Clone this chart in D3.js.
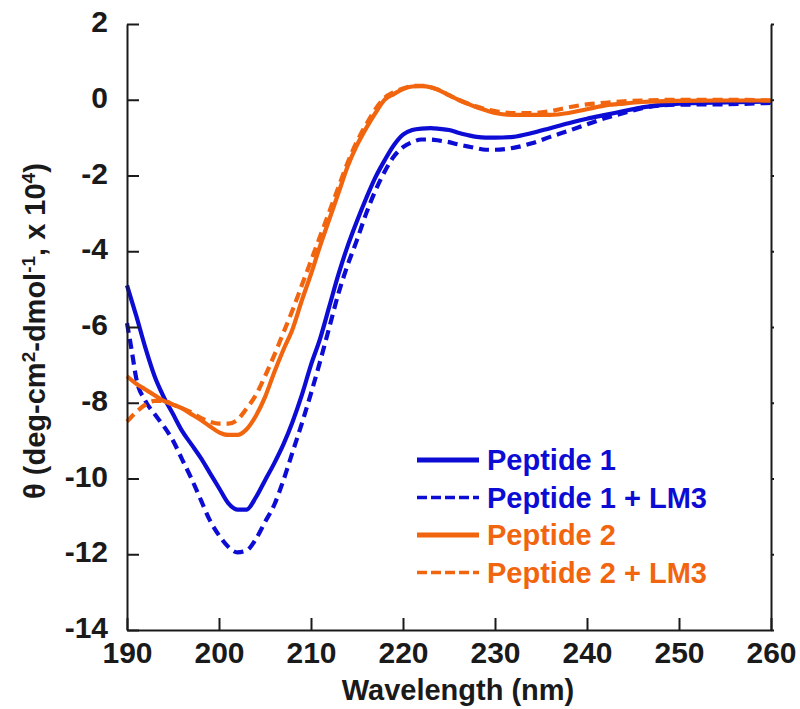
<!DOCTYPE html>
<html>
<head>
<meta charset="utf-8">
<script src="https://cdn.jsdelivr.net/npm/d3@7"></script>
<style>
  html, body { margin: 0; padding: 0; background: #fff; }
  svg { display: block; font-family: "Liberation Sans", Arial, Helvetica, sans-serif; font-weight: bold; }
</style>
</head>
<body>
<svg id="chart" width="800" height="709"></svg>
<script>
// ---- Data (theta, x 10^4 deg-cm^2-dmol^-1) ----
const xTicks = [190, 200, 210, 220, 230, 240, 250, 260];
const yTicks = [2, 0, -2, -4, -6, -8, -10, -12, -14];

const p1Wl = [190,191,192,193,194,195,196,197,198,199,200,201,202,203,204,205,206,207,208,209,210,211,212,213,214,215,216,217,218,219,220,221,222,223,224,225,226,227,228,229,230,232,234,236,238,240,242,244,246,248,250,255,260];
const p1Val = [-4.9,-5.7,-6.55,-7.3,-7.85,-8.3,-8.75,-9.1,-9.45,-9.85,-10.25,-10.65,-10.82,-10.82,-10.5,-10.05,-9.6,-9.1,-8.5,-7.8,-7.0,-6.3,-5.45,-4.6,-3.85,-3.2,-2.6,-2.05,-1.6,-1.2,-0.92,-0.8,-0.76,-0.75,-0.77,-0.8,-0.87,-0.93,-0.98,-1.0,-1.0,-0.98,-0.88,-0.75,-0.62,-0.5,-0.4,-0.3,-0.2,-0.14,-0.1,-0.07,-0.05];

const p1lmWl = [190,190.5,191,192,193,194,195,196,197,198,199,200,201,202,203,204,205,206,207,208,209,210,211,212,213,214,215,216,217,218,219,220,221,222,223,224,225,226,227,228,229,230,232,234,236,238,240,242,244,246,248,250,255,260];
const p1lmVal = [-5.9,-6.6,-7.35,-7.95,-8.3,-8.62,-9.0,-9.5,-10.0,-10.55,-11.1,-11.5,-11.8,-11.95,-11.9,-11.6,-11.15,-10.7,-10.05,-9.3,-8.55,-7.75,-6.9,-6.0,-5.1,-4.35,-3.7,-3.0,-2.4,-1.9,-1.5,-1.25,-1.12,-1.05,-1.05,-1.08,-1.12,-1.18,-1.23,-1.28,-1.32,-1.32,-1.27,-1.15,-0.98,-0.82,-0.65,-0.48,-0.35,-0.22,-0.15,-0.13,-0.12,-0.08];

const p2Wl = [190,191,192,193,194,195,196,197,198,199,200,201,202,203,204,205,206,207,208,209,210,211,212,213,214,215,216,217,218,219,220,221,222,223,224,225,226,227,228,229,230,232,234,236,238,240,242,244,246,250,255,260];
const p2Val = [-7.3,-7.5,-7.65,-7.8,-7.95,-8.05,-8.15,-8.3,-8.45,-8.62,-8.78,-8.85,-8.85,-8.7,-8.35,-7.85,-7.2,-6.6,-6.05,-5.3,-4.6,-3.85,-3.15,-2.45,-1.75,-1.2,-0.75,-0.35,0.0,0.15,0.28,0.35,0.36,0.33,0.24,0.12,0.0,-0.1,-0.2,-0.28,-0.35,-0.4,-0.4,-0.4,-0.35,-0.25,-0.15,-0.1,-0.06,-0.03,-0.02,-0.02];

const p2lmWl = [190,191,192,193,194,195,196,197,198,199,200,201,202,203,204,205,206,207,208,209,210,211,212,213,214,215,216,217,218,219,220,221,222,223,224,225,226,227,228,229,230,232,234,236,238,240,242,244,246,250,255,260];
const p2lmVal = [-8.5,-8.25,-8.05,-7.95,-7.95,-8.05,-8.15,-8.25,-8.4,-8.5,-8.55,-8.55,-8.45,-8.15,-7.8,-7.3,-6.75,-6.15,-5.55,-4.9,-4.25,-3.6,-2.95,-2.3,-1.65,-1.1,-0.65,-0.25,0.05,0.2,0.3,0.36,0.37,0.33,0.25,0.12,0.0,-0.1,-0.18,-0.25,-0.3,-0.35,-0.35,-0.3,-0.2,-0.12,-0.08,-0.04,-0.02,0.0,0.0,-0.02];

const seriesNames = ["Peptide 1", "Peptide 1 + LM3", "Peptide 2", "Peptide 2 + LM3"];
const seriesColors = ["#0c0cd4", "#0c0cd4", "#f2650f", "#f2650f"];
const seriesDashed = [false, true, false, true];

const xLabel = "Wavelength (nm)";

// ---- Layout ----
const svg = d3.select("#chart");
const mLeft = 127, mRight = 771, mTop = 24, mBottom = 630;
const x = d3.scaleLinear().domain([190, 260]).range([mLeft, mRight]);
const y = d3.scaleLinear().domain([-14, 2]).range([mBottom, mTop]);

const series = [
  {wl: p1Wl, val: p1Val},
  {wl: p1lmWl, val: p1lmVal},
  {wl: p2Wl, val: p2Val},
  {wl: p2lmWl, val: p2lmVal}
];

const line = d3.line().x(d => x(d[0])).y(d => y(d[1])).curve(d3.curveMonotoneX);

const gLines = svg.append("g");
series.forEach((s, i) => {
  const pts = s.wl.map((w, j) => [w, s.val[j]]);
  gLines.append("path")
    .attr("d", line(pts))
    .attr("fill", "none")
    .attr("stroke", seriesColors[i])
    .attr("stroke-width", 4.2)
    .attr("stroke-dasharray", seriesDashed[i] ? "10,6" : null);
});

const axisColor = "#1a1a1a";
const fmt = d => String(d);

// Bottom axis
const gx = svg.append("g").attr("transform", `translate(0,${mBottom})`)
  .call(d3.axisBottom(x).tickValues(xTicks).tickFormat(fmt).tickSizeInner(-12).tickSizeOuter(0).tickPadding(12));
// Left axis
const gy = svg.append("g").attr("transform", `translate(${mLeft},0)`)
  .call(d3.axisLeft(y).tickValues(yTicks).tickFormat(fmt).tickSizeInner(-12).tickSizeOuter(0).tickPadding(19));
// Right axis
const gr = svg.append("g").attr("transform", `translate(${mRight},0)`)
  .call(d3.axisRight(y).tickValues(yTicks).tickFormat("").tickSizeInner(3).tickSizeOuter(0));

[gx, gy, gr].forEach(g => {
  g.select(".domain").attr("stroke", axisColor).attr("stroke-width", 2);
  g.selectAll(".tick line").attr("stroke", axisColor).attr("stroke-width", 2);
  g.selectAll(".tick text").attr("fill", axisColor)
    .style("font-size", "30px").style("font-family", '"Liberation Sans", Arial, sans-serif').style("font-weight", "bold");
});
gy.selectAll(".tick text").attr("dy", "0.25em");

// X label
svg.append("text")
  .attr("x", 458).attr("y", 700)
  .attr("text-anchor", "middle")
  .attr("fill", axisColor)
  .style("font-size", "29px")
  .text(xLabel);

// Y label
const yl = svg.append("text")
  .attr("transform", "translate(45,331) rotate(-90)")
  .attr("text-anchor", "middle")
  .attr("fill", axisColor)
  .style("font-size", "29px");
yl.append("tspan").text("θ (deg-cm");
yl.append("tspan").attr("baseline-shift", "super").style("font-size", "19px").text("2");
yl.append("tspan").text("-dmol");
yl.append("tspan").attr("baseline-shift", "super").style("font-size", "19px").text("-1");
yl.append("tspan").text(", x 10");
yl.append("tspan").attr("baseline-shift", "super").style("font-size", "19px").text("4");
yl.append("tspan").text(")");

// Legend
const legY0 = 460, legDy = 37.5;
seriesNames.forEach((name, i) => {
  const yy = legY0 + i * legDy;
  svg.append("line")
    .attr("x1", 417).attr("x2", 479).attr("y1", yy).attr("y2", yy)
    .attr("stroke", seriesColors[i])
    .attr("stroke-width", seriesDashed[i] ? 3.4 : 5)
    .attr("stroke-dasharray", seriesDashed[i] ? "10,4" : null);
  svg.append("text")
    .attr("x", 487).attr("y", yy + 10)
    .attr("fill", seriesColors[i])
    .style("font-size", "29px")
    .text(name);
});
</script>
</body>
</html>
